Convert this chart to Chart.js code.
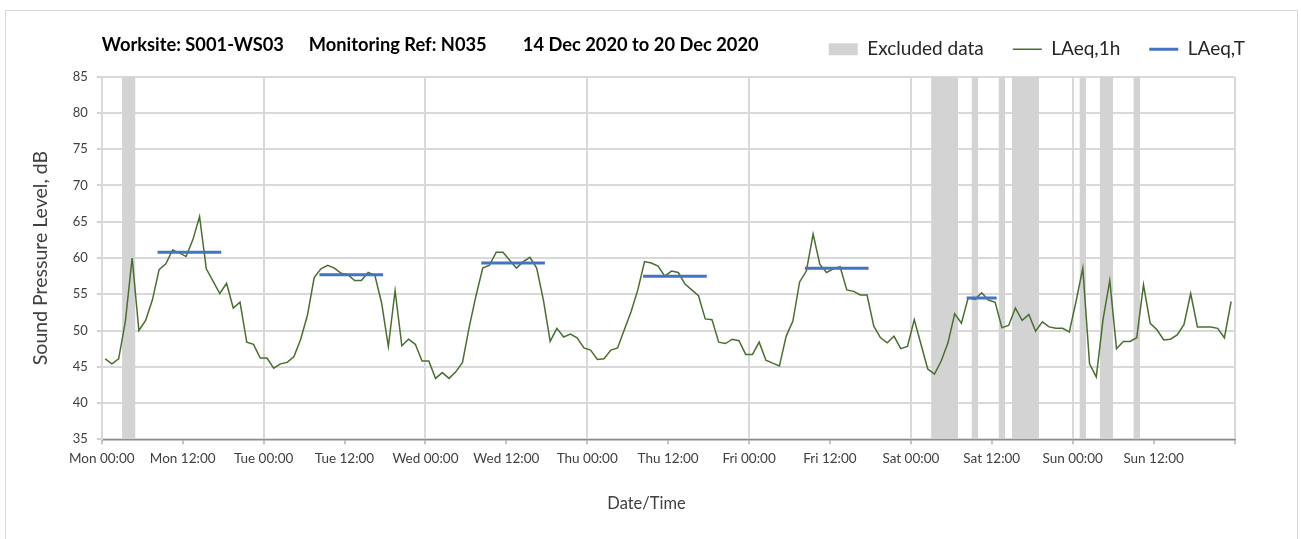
<!DOCTYPE html>
<html>
<head>
<meta charset="utf-8">
<title>Worksite noise monitoring</title>
<script src="https://cdn.jsdelivr.net/npm/chart.js@4.4.1/dist/chart.umd.min.js"></script>
<style>
  html, body { margin: 0; padding: 0; background: #ffffff; }
  #wrap { width: 1301px; height: 539px; }
</style>
</head>
<body>
<div id="wrap"><canvas id="chart" width="1301" height="539"></canvas></div>
<script>
// ---- Chart text ----
const titleParts = ['Worksite: S001-WS03', 'Monitoring Ref: N035', '14 Dec 2020 to 20 Dec 2020'];
const xAxisTitle = 'Date/Time';
const yAxisTitle = 'Sound Pressure Level, dB';
const tickLabels = ['Mon 00:00', 'Mon 12:00', 'Tue 00:00', 'Tue 12:00', 'Wed 00:00', 'Wed 12:00',
  'Thu 00:00', 'Thu 12:00', 'Fri 00:00', 'Fri 12:00', 'Sat 00:00', 'Sat 12:00', 'Sun 00:00', 'Sun 12:00'];

// ---- Axis ranges (hours from Monday 00:00, dB) ----
const hoursInWeek = 168;
const hourTickStep = 12;
const levelMin = 35;
const levelMax = 85;
const levelStep = 5;

// ---- Hourly LAeq,1h values, Mon 00:00 to Sun 23:00 ----
const hourlyLevels = [
  46.1, 45.4, 46.1, 51.3, 60.0, 50.0, 51.4, 54.2, 58.4, 59.2, 61.1, 60.7, 60.2, 62.5, 65.7, 58.5, 56.8, 55.1, 56.5, 53.1, 53.9, 48.4, 48.1, 46.2,
  46.2, 44.8, 45.4, 45.6, 46.4, 48.8, 52.1, 57.3, 58.5, 59.0, 58.6, 57.9, 57.7, 56.9, 56.9, 58.0, 57.6, 53.8, 47.8, 55.5, 47.9, 48.8, 48.1, 45.8,
  45.8, 43.4, 44.2, 43.4, 44.3, 45.6, 50.5, 54.8, 58.6, 59.0, 60.8, 60.8, 59.7, 58.6, 59.5, 60.1, 58.6, 54.2, 48.5, 50.3, 49.1, 49.5, 49.0, 47.6,
  47.3, 46.0, 46.1, 47.3, 47.6, 50.1, 52.6, 55.6, 59.5, 59.3, 58.9, 57.5, 58.2, 58.0, 56.4, 55.6, 54.8, 51.6, 51.5, 48.4, 48.2, 48.8, 48.6, 46.7,
  46.7, 48.4, 45.9, 45.5, 45.1, 49.2, 51.3, 56.7, 58.2, 63.3, 59.1, 58.0, 58.5, 58.8, 55.6, 55.4, 54.9, 54.9, 50.6, 49.0, 48.3, 49.2, 47.5, 47.8,
  51.5, 48.1, 44.7, 44.0, 45.8, 48.3, 52.3, 51.0, 54.5, 54.3, 55.2, 54.2, 53.9, 50.4, 50.7, 53.1, 51.4, 52.2, 49.9, 51.2, 50.5, 50.3, 50.3, 49.8,
  54.0, 58.6, 45.4, 43.6, 51.5, 56.9, 47.5, 48.5, 48.5, 49.0, 56.3, 51.0, 50.1, 48.7, 48.8, 49.4, 50.8, 55.1, 50.5, 50.5, 50.5, 50.3, 49.0, 54.0
];

// ---- LAeq,T over each assessment period (start hour, end hour, level) ----
const periodStart = [8, 32, 56, 80, 104, 128];
const periodEnd = [18, 42, 66, 90, 114, 133];
const periodLevels = [60.8, 57.7, 59.3, 57.5, 58.6, 54.5];

// ---- Excluded hours (start hour, end hour) ----
const excludedStart = [3, 123, 129, 133, 135, 145, 148, 153];
const excludedEnd = [5, 127, 130, 134, 139, 146, 150, 154];

// ---- Build point lists for the datasets ----
const hourlyPoints = hourlyLevels.map((v, h) => ({ x: h + 0.5, y: v }));

const periodPoints = [];
periodStart.forEach((s, i) => {
  periodPoints.push({ x: s + 0.5, y: periodLevels[i] });
  periodPoints.push({ x: periodEnd[i] - 0.5, y: periodLevels[i] });
  periodPoints.push({ x: periodEnd[i], y: null });
});

const excludedPoints = [];
excludedStart.forEach((s, i) => {
  excludedPoints.push({ x: s, y: levelMax });
  excludedPoints.push({ x: excludedEnd[i], y: levelMax });
  excludedPoints.push({ x: excludedEnd[i], y: null });
});

const FONT = 'Lato, "Open Sans", "DejaVu Sans", sans-serif';

// Frame, heading and x-axis caption drawn around the plot;
// the legend row is lifted to sit level with the heading.
const decorations = {
  id: 'decorations',
  afterLayout(chart) {
    const lg = chart.legend;
    if (lg) {
      lg.top -= 8;
      lg.bottom -= 8;
    }
  },
  beforeDraw(chart) {
    const ctx = chart.ctx;
    ctx.save();
    ctx.fillStyle = '#ffffff';
    ctx.fillRect(0, 0, chart.width, chart.height);
    ctx.strokeStyle = '#d9d9d9';
    ctx.lineWidth = 1;
    ctx.strokeRect(5.5, 10.5, chart.width - 9, chart.height + 5);
    ctx.restore();
  },
  afterDraw(chart) {
    const { ctx, chartArea } = chart;
    ctx.save();
    ctx.font = 'bold 18.3px ' + FONT;
    ctx.fillStyle = '#000000';
    ctx.textAlign = 'left';
    ctx.textBaseline = 'alphabetic';
    const offsets = [0, 207, 421];
    titleParts.forEach((t, i) => ctx.fillText(t, chartArea.left + offsets[i], 51));
    ctx.font = '16.5px ' + FONT;
    ctx.fillStyle = '#404040';
    ctx.textAlign = 'center';
    ctx.textBaseline = 'middle';
    ctx.fillText(xAxisTitle, chart.width / 2 - 4, 504);
    ctx.restore();
  }
};

new Chart(document.getElementById('chart'), {
  type: 'line',
  data: {
    datasets: [
      {
        label: 'Excluded data',
        data: excludedPoints,
        backgroundColor: '#d3d3d3',
        borderColor: 'rgba(0,0,0,0)',
        borderWidth: 0,
        fill: 'start',
        pointRadius: 0,
        pointStyle: 'rect',
        spanGaps: false,
        order: 3
      },
      {
        label: 'LAeq,1h',
        data: hourlyPoints,
        borderColor: '#4a6e2f',
        backgroundColor: '#4a6e2f',
        borderWidth: 1.5,
        fill: false,
        pointRadius: 0,
        pointStyle: 'line',
        tension: 0,
        order: 2
      },
      {
        label: 'LAeq,T',
        data: periodPoints,
        borderColor: '#4472c4',
        backgroundColor: '#4472c4',
        borderWidth: 3,
        borderCapStyle: 'square',
        fill: false,
        pointRadius: 0,
        pointStyle: 'line',
        spanGaps: false,
        order: 1
      }
    ]
  },
  options: {
    responsive: false,
    animation: false,
    events: [],
    layout: { padding: { top: 0, left: 20, right: 27, bottom: 0 } },
    plugins: {
      tooltip: { enabled: false },
      title: { display: false },
      legend: {
        position: 'top',
        align: 'end',
        labels: {
          usePointStyle: true,
          pointStyleWidth: 29,
          boxHeight: 12,
          padding: 29,
          color: '#262626',
          font: { family: FONT, size: 19 },
          sort: (a, b) => a.datasetIndex - b.datasetIndex
        }
      }
    },
    scales: {
      x: {
        type: 'linear',
        min: 0,
        max: hoursInWeek,
        ticks: {
          stepSize: hourTickStep,
          autoSkip: false,
          maxRotation: 0,
          minRotation: 0,
          padding: 6,
          color: '#404040',
          font: { family: FONT, size: 13.5 },
          callback: (v) => tickLabels[v / hourTickStep] ?? ''
        },
        grid: {
          color: (c) => (c.tick && c.tick.value % 24 === 0) ? '#d9d9d9' : 'rgba(0,0,0,0)',
          lineWidth: 2,
          tickLength: 5,
          tickColor: '#8c8c8c',
          tickWidth: 1
        },
        border: { color: '#8c8c8c', width: 1.5 },
        afterFit(axis) {
          axis.height = 99.7;
          axis.paddingLeft = 0;
          axis.paddingRight = 66.5;
        }
      },
      y: {
        min: levelMin,
        max: levelMax,
        ticks: {
          stepSize: levelStep,
          padding: 9,
          color: '#404040',
          font: { family: FONT, size: 13 }
        },
        grid: {
          color: '#d9d9d9',
          lineWidth: 2,
          tickLength: 5,
          tickColor: '#a6a6a6',
          tickWidth: 1
        },
        border: { color: '#d9d9d9', width: 2 },
        title: {
          display: true,
          text: yAxisTitle,
          color: '#404040',
          font: { family: FONT, size: 19.5 },
          padding: { top: 9, bottom: 0 }
        },
        afterFit(axis) {
          axis.width = 81.8;
          axis.paddingTop = 76.7;
        }
      }
    }
  },
  plugins: [decorations]
});
</script>
</body>
</html>
